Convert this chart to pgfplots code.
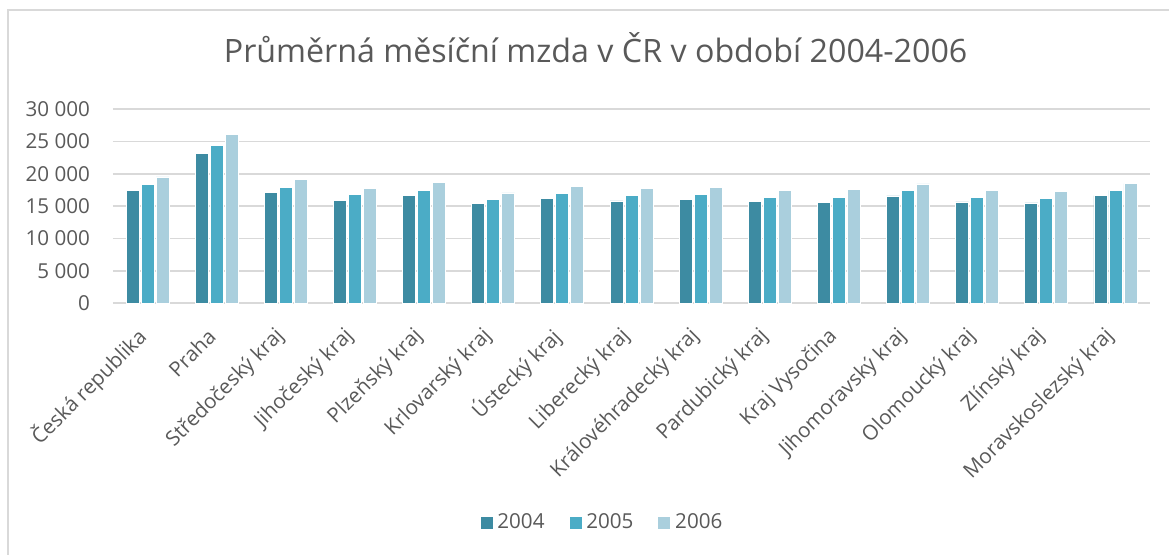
\documentclass[border=0pt]{standalone}
\usepackage{fontspec}
\setmainfont{Open Sans}
\usepackage{pgfplots}
\pgfplotsset{compat=1.18}
\definecolor{c04}{HTML}{3D8BA2}
\definecolor{c05}{HTML}{4BACC6}
\definecolor{c06}{HTML}{AACFDD}
\definecolor{txt}{HTML}{595959}
\definecolor{grd}{HTML}{D9D9D9}
\begin{document}
\begin{tikzpicture}
\useasboundingbox (0,0) rectangle (584.5pt,277.5pt);
\draw[grd, line width=0.8pt] (4pt,-5pt) -- (4pt,272.5pt) -- (600pt,272.5pt);
\node[txt, font=\fontsize{16.1}{19}\selectfont] at (297.8pt,253.5pt) {Průměrná měsíční mzda v ČR v období 2004-2006};
\begin{axis}[
  at={(56.5pt,125.85pt)}, anchor=south west,
  scale only axis, width=518.5pt, height=97.15pt,
  ybar=1pt, bar width=6.5pt,
  xmin=-0.5, xmax=14.5, ymin=0, ymax=30000,
  scaled y ticks=false,
  xtick={0,...,14},
  xticklabels={Česká republika, Praha, Středočeský kraj, Jihočeský kraj, Plzeňský kraj, Krlovarský kraj, Ústecký kraj, Liberecký kraj, Královéhradecký kraj, Pardubický kraj, Kraj Vysočina, Jihomoravský kraj, Olomoucký kraj, Zlínský kraj, Moravskoslezský kraj},
  ytick={0,5000,...,30000},
  yticklabels={0,5 000,10 000,15 000,20 000,25 000,30 000},
  ymajorgrids, grid style={grd, line width=0.8pt},
  axis line style={draw=none},
  major tick length=0pt,
  tick label style={txt, font=\fontsize{10.3}{12}\selectfont},
  yticklabel style={xshift=-8pt},
  xticklabel style={rotate=45, anchor=east},
  xticklabel shift=12.5pt,
  legend style={at={(0.4725,-1.1307)}, anchor=center, draw=none, legend columns=3,
    font=\fontsize{10.3}{12}\selectfont, text=txt,
    /tikz/every even column/.append style={column sep=10pt}},
  legend image code/.code={\fill[#1] (0pt,-3.25pt) rectangle (6.5pt,3.25pt);},
]
\addplot[fill=c04, draw=white, line width=0.4pt] coordinates {(0,17450) (1,23160) (2,17140) (3,15900) (4,16720) (5,15380) (6,16210) (7,15800) (8,16050) (9,15750) (10,15590) (11,16570) (12,15640) (13,15490) (14,16610)};
\addplot[fill=c05, draw=white, line width=0.4pt] coordinates {(0,18310) (1,24330) (2,17910) (3,16830) (4,17390) (5,16100) (6,16980) (7,16670) (8,16830) (9,16410) (10,16310) (11,17390) (12,16310) (13,16210) (14,17450)};
\addplot[fill=c06, draw=white, line width=0.4pt] coordinates {(0,19500) (1,26030) (2,19150) (3,17800) (4,18680) (5,17030) (6,18060) (7,17750) (8,17850) (9,17490) (10,17600) (11,18420) (12,17390) (13,17230) (14,18470)};
\legend{2004,2005,2006}
\end{axis}
\end{tikzpicture}
\end{document}
